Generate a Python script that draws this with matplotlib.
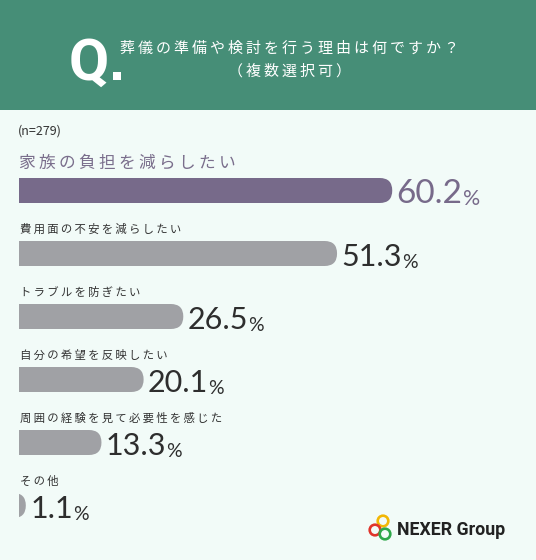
import matplotlib
matplotlib.use("Agg")
import matplotlib.pyplot as plt
from matplotlib.patches import FancyBboxPatch, Rectangle, Circle

labels = ["家族の負担を減らしたい", "費用面の不安を減らしたい", "トラブルを防ぎたい",
          "自分の希望を反映したい", "周囲の経験を見て必要性を感じた", "その他"]
values = [60.2, 51.3, 26.5, 20.1, 13.3, 1.1]
title_lines = ["葬儀の準備や検討を行う理由は何ですか？", "（複数選択可）"]
n_note = "(n=279)"

W, H = 536, 560
BG = "#f2fbf8"
GREEN = "#468e77"
PURPLE = "#776a8a"
GRAY = "#a0a1a5"
DARK = "#2e2e2e"
JP = ["Noto Sans CJK JP", "DejaVu Sans"]


def spaced(s):
    return "\u2009".join(s)


fig = plt.figure(figsize=(W / 100, H / 100), dpi=100, facecolor=BG)

# background layer in pixel units
bg = fig.add_axes([0, 0, 1, 1])
bg.set_xlim(0, W)
bg.set_ylim(H, 0)
bg.axis("off")
bg.add_patch(Rectangle((0, 0), W, 110, color=GREEN, lw=0))
bg.text(69, 80, "Q", color="white", fontsize=42, fontweight="bold",
        family="Roboto", va="baseline", ha="left")
bg.add_patch(Rectangle((113, 72), 8, 8, color="white", lw=0))
bg.text(289, 49, spaced(title_lines[0]), color="white", fontsize=10.8,
        family=JP, ha="center", va="center")
bg.text(289, 71, spaced(title_lines[1]), color="white", fontsize=10.8,
        family=JP, ha="center", va="center")
bg.text(18, 131, n_note, color="#333333", fontsize=9, family=JP,
        ha="left", va="center")

# logo
for (cx, cy), c in zip([(383, 521), (375, 530), (385, 534)],
                       ["#f2b705", "#e0342b", "#2ea84a"]):
    bg.add_patch(Circle((cx, cy), 5.3, fill=False, ec=c, lw=1.9))
bg.text(397, 530, "NEXER Group", fontsize=12.8, fontweight="bold",
        family="Roboto", color="#222222", ha="left", va="center")

# bar layer
px_per_unit = 6.2
row_px = 63.0
first_px = 190.5
left_px = 19
ax = fig.add_axes([left_px / W, 0, 1 - left_px / W, 1])
ax.set_xlim(0, (W - left_px) / px_per_unit)
ax.set_ylim((H - first_px) / row_px, -first_px / row_px)
ax.axis("off")

bar_h = 25 / row_px
r = 12.5 / px_per_unit
aspect = (12.5 / row_px) / r

renderer = fig.canvas.get_renderer()
for i, (lab, v) in enumerate(zip(labels, values)):
    col = PURPLE if i == 0 else GRAY
    box = FancyBboxPatch((-4, i - bar_h / 2), v + 4, bar_h,
                         boxstyle=f"round,pad=0,rounding_size={r}",
                         mutation_aspect=aspect, fc=col, ec="none")
    ax.add_patch(box)
    if i == 0:
        ax.text(0, i - 0.44, spaced(lab), fontsize=12, color="#7a6e8c",
                family=JP, ha="left", va="center")
        num_size, num_col = 24, PURPLE
    else:
        ax.text(0.1, i - 0.385, spaced(lab), fontsize=8.2, color="#333333",
                family=JP, ha="left", va="center")
        num_size, num_col = 22, DARK
    t = ax.text(v + 0.7, i + bar_h / 2, f"{v:.1f}", fontsize=num_size,
                color=num_col, family="Lato", ha="left", va="baseline")
    bb = t.get_window_extent(renderer=renderer)
    ax.annotate("%", xy=(bb.x1, bb.y0), xycoords="figure pixels",
                xytext=(0, 0), textcoords="offset points",
                fontsize=num_size * 0.64, color=num_col,
                family="Lato", ha="left", va="bottom")

fig.savefig("out.png", dpi=100, facecolor=BG)
